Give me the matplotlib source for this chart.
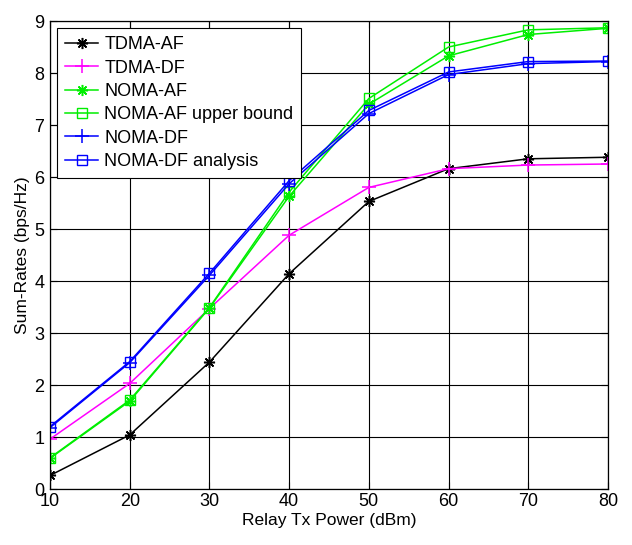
import matplotlib.pyplot as plt

plt.rcParams['font.family'] = ['Liberation Sans', 'DejaVu Sans']

# Relay Tx power (dBm)
power = [10, 20, 30, 40, 50, 60, 70, 80]

# Sum-rates (bps/Hz)
tdma_af = [0.26, 1.04, 2.44, 4.14, 5.53, 6.16, 6.35, 6.38]
tdma_df = [0.96, 2.03, 3.47, 4.88, 5.80, 6.16, 6.23, 6.25]
noma_af = [0.59, 1.69, 3.48, 5.63, 7.40, 8.33, 8.74, 8.86]
noma_af_ub = [0.60, 1.71, 3.49, 5.71, 7.51, 8.50, 8.83, 8.87]
noma_df = [1.18, 2.43, 4.11, 5.87, 7.22, 7.97, 8.18, 8.22]
noma_df_an = [1.20, 2.45, 4.15, 5.93, 7.28, 8.02, 8.22, 8.23]

star = (8, 2, 0)  # matlab-like asterisk

fig = plt.figure(figsize=(6.32, 5.45), dpi=100)
ax = fig.add_axes([50 / 632, 1 - 489 / 545, 558 / 632, 468 / 545])

ax.plot(power, tdma_af, color='black', marker=star, ms=8, mew=1.1, lw=1.1, label='TDMA-AF')
ax.plot(power, tdma_df, color='magenta', marker='+', ms=10, mew=1.1, lw=1.1, label='TDMA-DF')
ax.plot(power, noma_af, color='#00ee00', marker=star, ms=8, mew=1.1, lw=1.1, label='NOMA-AF')
ax.plot(power, noma_af_ub, color='#00ee00', marker='s', ms=7, mfc='none', lw=1.1,
        label='NOMA-AF upper bound')
ax.plot(power, noma_df, color='blue', marker='+', ms=10, mew=1.1, lw=1.1, label='NOMA-DF')
ax.plot(power, noma_df_an, color='blue', marker='s', ms=7, mfc='none', lw=1.1,
        label='NOMA-DF analysis')

ax.set_xlim(10, 80)
ax.set_ylim(0, 9)
ax.set_xticks(power)
ax.set_yticks(range(10))
ax.tick_params(direction='in', top=True, right=True, labelsize=13, length=5, pad=3)
ax.tick_params(axis='y', pad=4)
ax.grid(True, color='black', lw=0.8)
for s in ax.spines.values():
    s.set_linewidth(0.9)

ax.set_xlabel('Relay Tx Power (dBm)', fontsize=12.5, labelpad=2)
ax.set_ylabel('Sum-Rates (bps/Hz)', fontsize=12.5, labelpad=3)

leg = ax.legend(loc='upper left', fontsize=13, fancybox=False, framealpha=1,
                edgecolor='black', borderaxespad=0.4, handlelength=1.8,
                labelspacing=0.35, borderpad=0.45, handletextpad=0.35)
leg.get_frame().set_linewidth(0.8)

plt.savefig('out.png', dpi=100)
